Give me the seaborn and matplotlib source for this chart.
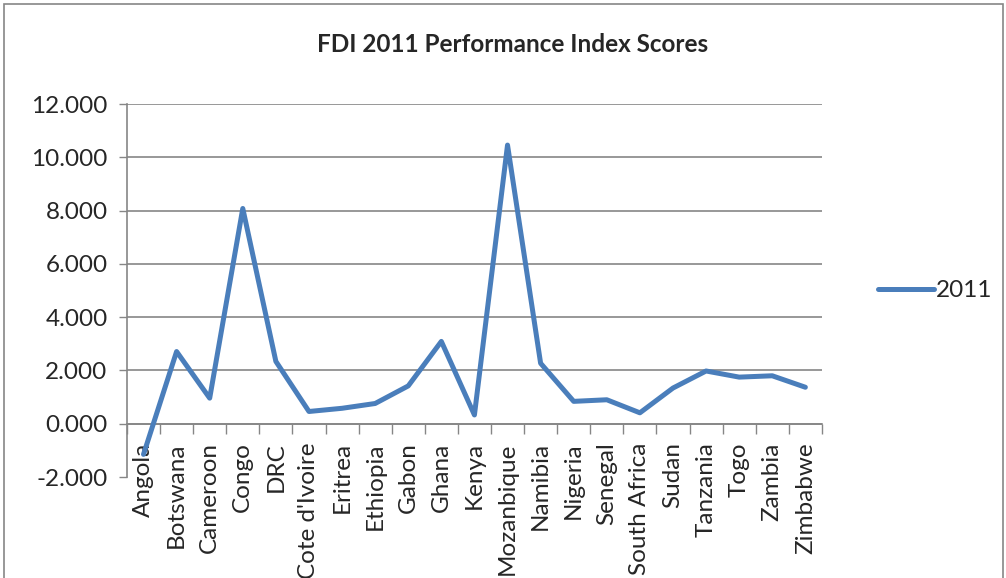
import pandas as pd
import seaborn as sns
import matplotlib.pyplot as plt
from matplotlib.patches import Rectangle
from matplotlib.ticker import FuncFormatter

# dados
paises = ["Angola", "Botswana", "Cameroon", "Congo", "DRC", "Cote d'Ivoire",
          "Eritrea", "Ethiopia", "Gabon", "Ghana", "Kenya", "Mozanbique",
          "Namibia", "Nigeria", "Senegal", "South Africa", "Sudan",
          "Tanzania", "Togo", "Zambia", "Zimbabwe"]
scores_2011 = [-1.15, 2.71, 0.96, 8.08, 2.34, 0.46, 0.58, 0.76, 1.42, 3.09,
               0.33, 10.46, 2.27, 0.84, 0.90, 0.41, 1.34, 1.98, 1.75, 1.80,
               1.37]
y_ticks = [-2, 0, 2, 4, 6, 8, 10, 12]

df = pd.DataFrame({"pais": paises, "score": scores_2011})

sns.set_style("white")
plt.rcParams["font.family"] = ["Lato", "DejaVu Sans"]

cinza = "#868686"
azul = "#4a7ebb"

fig = plt.figure(figsize=(10.06, 5.78), dpi=100)
ax = fig.add_axes([0.1262, 0.1747, 0.817 - 0.1262, 0.820 - 0.1747])

sns.lineplot(data=df, x="pais", y="score", sort=False, color=azul,
             linewidth=3.6, ax=ax, label="2011")

ax.set_ylim(-2, 12)
ax.set_xlim(-0.5, len(paises) - 0.5)
ax.set_yticks(y_ticks)
ax.yaxis.set_major_formatter(FuncFormatter(lambda v, p: f"{v:.3f}"))
ax.set_xticks(range(len(paises)))
ax.set_xticklabels(paises, rotation=90)
ax.tick_params(axis="x", length=0, pad=-25, labelsize=17.5)
ax.tick_params(axis="y", length=6, width=1, color=cinza, direction="out",
               pad=8, labelsize=17.5, left=True)
ax.set_xlabel("")
ax.set_ylabel("")

ax.grid(True, axis="y", color=cinza, linewidth=1.2)
ax.get_ygridlines()[0].set_visible(False)
for s in ["top", "right", "bottom"]:
    ax.spines[s].set_visible(False)
ax.spines["left"].set_color(cinza)
ax.spines["left"].set_linewidth(1.2)

# eixo horizontal no zero, com marcas entre as categorias
eixo0 = ax.secondary_xaxis(2 / 14)
eixo0.set_xticks([i - 0.5 for i in range(len(paises) + 1)])
eixo0.set_xticklabels([])
eixo0.tick_params(length=7, width=1, color=cinza, direction="out")
eixo0.spines["bottom"].set_color(cinza)
eixo0.spines["bottom"].set_linewidth(1.2)

fig.text(0.51, 0.923, "FDI 2011 Performance Index Scores", ha="center",
         va="center", fontsize=17.5, fontweight="bold")

leg = ax.legend(loc="center left", bbox_to_anchor=(1.0806, 0.5), frameon=False,
                fontsize=17.5, handlelength=2.3, handletextpad=0.1,
                borderaxespad=0, borderpad=0)

fig.patches.append(Rectangle((0.004, -0.01), 0.993, 1.003, transform=fig.transFigure,
                             fill=False, edgecolor=cinza, linewidth=1.2))

plt.savefig("out.png", dpi=100)
